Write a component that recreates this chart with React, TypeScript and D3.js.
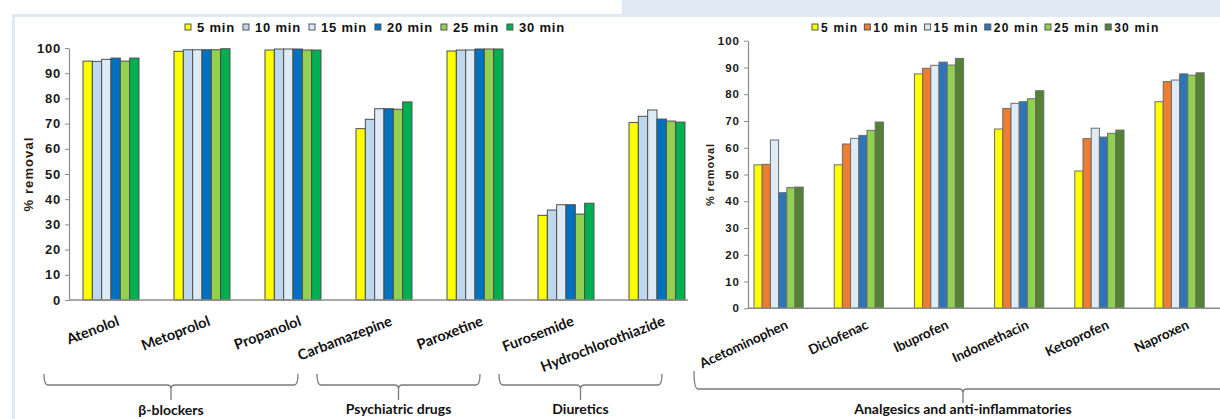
import React, { useEffect, useRef } from "react";
import * as d3 from "d3";

const seriesNames = ["5 min", "10 min", "15 min", "20 min", "25 min", "30 min"];

const leftCategories = ["Atenolol", "Metoprolol", "Propanolol", "Carbamazepine", "Paroxetine", "Furosemide", "Hydrochlorothiazide"];
const left5 = [94.8, 98.7, 99.2, 68.0, 98.8, 33.6, 70.4];
const left10 = [94.7, 99.3, 99.6, 71.7, 99.2, 35.7, 72.9];
const left15 = [95.5, 99.3, 99.6, 75.9, 99.2, 37.8, 75.4];
const left20 = [96.0, 99.3, 99.6, 75.9, 99.6, 37.8, 71.8];
const left25 = [94.8, 99.3, 99.2, 75.7, 99.6, 34.1, 71.0];
const left30 = [96.0, 99.7, 99.2, 78.6, 99.6, 38.4, 70.6];
const leftColors = ["#FFFF00", "#BDD7EE", "#DDEBF7", "#0070C0", "#92D050", "#00B050"];
const leftGroups = [
  { name: "β-blockers", first: "Atenolol", last: "Propanolol" },
  { name: "Psychiatric drugs", first: "Carbamazepine", last: "Paroxetine" },
  { name: "Diuretics", first: "Furosemide", last: "Hydrochlorothiazide" },
];

const rightCategories = ["Acetominophen", "Diclofenac", "Ibuprofen", "Indomethacin", "Ketoprofen", "Naproxen"];
const right5 = [53.6, 53.6, 87.6, 67.0, 51.3, 77.2];
const right10 = [53.8, 61.4, 89.7, 74.7, 63.4, 84.7];
const right15 = [62.9, 63.5, 90.8, 76.6, 67.3, 85.3];
const right20 = [43.2, 64.6, 92.0, 77.2, 64.0, 87.6];
const right25 = [45.1, 66.5, 90.9, 78.3, 65.4, 87.1];
const right30 = [45.3, 69.6, 93.4, 81.3, 66.6, 88.0];
const rightColors = ["#FFFF00", "#ED7D31", "#DEEBF7", "#2E75B6", "#92D050", "#548235"];
const rightGroups = [{ name: "Analgesics and anti-inflammatories", first: "Acetominophen", last: "Naproxen" }];

const yTicks = [0, 10, 20, 30, 40, 50, 60, 70, 80, 90, 100];

const ARIAL = "'Liberation Sans', Arial, sans-serif";
const LATO = "Lato, 'Open Sans', sans-serif";

type Cfg = {
  categories: string[];
  values: number[][];
  colors: string[];
  groups: { name: string; first: string; last: string }[];
  axisX: number;
  step: number;
  barOffset: number;
  barW: number;
  y0: number;
  y100: number;
  axisEnd: number;
  tickFont: number;
  tickLS: number;
  titleFont: number;
  titleLS: number;
  titleX: number;
  labelFont: number;
  labelAngle: number;
  labelDx: number;
  labelY: number;
  legendX: number;
  legendFont: number;
  legendLS: number;
  legendGapAfterSq: number;
  legendGapAfterText: number;
  barStroke: string;
  bracketLeft: number;
  bracketRight: number;
  bracketTop: number;
  bracketLine: number;
  bracketStem: number;
  groupLabelY: number[];
};

function drawChart(svg: d3.Selection<SVGSVGElement, unknown, null, undefined>, c: Cfg) {
  const g = svg.append("g");
  const n = c.categories.length;
  const x0 = d3.scaleBand<string>().domain(c.categories).range([c.axisX, c.axisX + n * c.step]).padding(0);
  const x1 = d3.scaleBand<string>().domain(seriesNames).range([c.barOffset, c.barOffset + 6 * c.barW]).padding(0);
  const y = d3.scaleLinear().domain([0, 100]).range([c.y0, c.y100]);

  // bars
  c.categories.forEach((cat, ci) => {
    seriesNames.forEach((s, si) => {
      const v = c.values[si][ci];
      g.append("rect")
        .attr("x", (x0(cat) as number) + (x1(s) as number))
        .attr("y", y(v))
        .attr("width", x1.bandwidth())
        .attr("height", y(0) - y(v))
        .attr("fill", c.colors[si])
        .attr("stroke", c.barStroke)
        .attr("stroke-width", 1);
    });
  });

  // x axis line
  g.append("line")
    .attr("x1", c.axisX).attr("x2", c.axisEnd)
    .attr("y1", y(0)).attr("y2", y(0))
    .attr("stroke", "#8c8c8c").attr("stroke-width", 1.5);

  // y axis
  const ax = g.append("g")
    .attr("transform", `translate(${c.axisX},0)`)
    .call(d3.axisLeft(y).tickValues(yTicks).tickSize(4).tickPadding(4).tickSizeOuter(0));
  ax.select(".domain").attr("stroke", "#8c8c8c").attr("stroke-width", 1.2);
  ax.selectAll(".tick line").attr("stroke", "#8c8c8c");
  ax.selectAll(".tick text")
    .attr("font-family", ARIAL)
    .attr("font-weight", "bold")
    .attr("font-size", c.tickFont)
    .attr("letter-spacing", c.tickLS)
    .attr("fill", "#1a1a1a");

  // y title
  g.append("text")
    .attr("transform", `translate(${c.titleX},${(y(0) + y(100)) / 2}) rotate(-90)`)
    .attr("text-anchor", "middle")
    .attr("dominant-baseline", "central")
    .attr("font-family", ARIAL)
    .attr("font-weight", "bold")
    .attr("font-size", c.titleFont)
    .attr("letter-spacing", c.titleLS)
    .attr("fill", "#2a1a10")
    .text("% removal");

  // category labels
  c.categories.forEach((cat) => {
    const lx = (x0(cat) as number) + c.labelDx;
    g.append("text")
      .attr("transform", `translate(${lx},${c.labelY}) rotate(${c.labelAngle})`)
      .attr("text-anchor", "end")
      .attr("font-family", LATO)
      .attr("font-weight", "bold")
      .attr("font-size", c.labelFont)
      .attr("fill", "#111")
      .text(cat);
  });

  // legend
  let lx = c.legendX;
  const legendY = 27.5;
  seriesNames.forEach((s, si) => {
    g.append("rect")
      .attr("x", lx).attr("y", legendY - 3.5)
      .attr("width", 6).attr("height", 6)
      .attr("fill", c.colors[si])
      .attr("stroke", "#555").attr("stroke-width", 1);
    lx += 6 + c.legendGapAfterSq;
    const t = g.append("text")
      .attr("x", lx).attr("y", legendY)
      .attr("dominant-baseline", "central")
      .attr("font-family", ARIAL)
      .attr("font-weight", "bold")
      .attr("font-size", c.legendFont)
      .attr("letter-spacing", c.legendLS)
      .attr("fill", "#111")
      .text(s);
    const w = (t.node() as SVGTextElement).getComputedTextLength();
    lx += w + c.legendGapAfterText;
  });

  // brackets
  c.groups.forEach((gr, gi) => {
    const xl = (x0(gr.first) as number) + c.bracketLeft;
    const xr = (x0(gr.last) as number) + c.bracketRight;
    const xm = (xl + xr) / 2;
    const top = c.bracketTop;
    const ln = c.bracketLine;
    const r = 4;
    const path = `M${xl},${top} Q${xl},${ln} ${xl + r},${ln} L${xm - r},${ln} Q${xm},${ln} ${xm},${ln + r} L${xm},${c.bracketStem} M${xm},${ln + r} Q${xm},${ln} ${xm + r},${ln} L${xr - r},${ln} Q${xr},${ln} ${xr},${top}`;
    g.append("path")
      .attr("d", path)
      .attr("fill", "none")
      .attr("stroke", "#7a7a7a")
      .attr("stroke-width", 1.3);
    g.append("text")
      .attr("x", xm).attr("y", c.groupLabelY[gi])
      .attr("text-anchor", "middle")
      .attr("font-family", LATO)
      .attr("font-weight", "bold")
      .attr("font-size", 14)
      .attr("fill", "#111")
      .text(gr.name);
  });
}

export default function App() {
  const ref = useRef<SVGSVGElement>(null);
  useEffect(() => {
    const svg = d3.select(ref.current as SVGSVGElement);
    svg.selectAll("*").remove();

    // background frames
    svg.append("rect").attr("x", 0).attr("y", 0).attr("width", 1220).attr("height", 419).attr("fill", "#fff");
    svg.append("rect").attr("x", 622).attr("y", 0).attr("width", 598).attr("height", 17).attr("fill", "#DFEAF4");
    svg.append("path")
      .attr("d", "M13.5,419 L13.5,15.5 L622,15.5")
      .attr("fill", "none")
      .attr("stroke", "#DFEAF4")
      .attr("stroke-width", 3);

    drawChart(svg, {
      categories: leftCategories,
      values: [left5, left10, left15, left20, left25, left30],
      colors: leftColors,
      groups: leftGroups,
      axisX: 69,
      step: 91,
      barOffset: 14,
      barW: 9.33,
      y0: 300,
      y100: 48,
      axisEnd: 688,
      tickFont: 13,
      tickLS: 0.8,
      titleFont: 13,
      titleLS: 1.1,
      titleX: 28,
      labelFont: 14.5,
      labelAngle: -21,
      labelDx: 51,
      labelY: 325,
      legendX: 185,
      legendFont: 13,
      legendLS: 0.8,
      legendGapAfterSq: 6,
      legendGapAfterText: 8,
      barStroke: "#4d4d4d",
      bracketLeft: -25,
      bracketRight: 47,
      bracketTop: 374,
      bracketLine: 385,
      bracketStem: 400,
      groupLabelY: [415, 414, 414],
    });

    drawChart(svg, {
      categories: rightCategories,
      values: [right5, right10, right15, right20, right25, right30],
      colors: rightColors,
      groups: rightGroups,
      axisX: 748,
      step: 80.2,
      barOffset: 6,
      barW: 8.2,
      y0: 308.3,
      y100: 40.7,
      axisEnd: 1220,
      tickFont: 11.5,
      tickLS: 1,
      titleFont: 11,
      titleLS: 0.9,
      titleX: 710,
      labelFont: 13.5,
      labelAngle: -25,
      labelDx: 41,
      labelY: 328,
      legendX: 812,
      legendFont: 12,
      legendLS: 1.2,
      legendGapAfterSq: 3,
      legendGapAfterText: 6,
      barStroke: "#6b6b6b",
      bracketLeft: -54,
      bracketRight: 83,
      bracketTop: 371,
      bracketLine: 389,
      bracketStem: 403,
      groupLabelY: [414],
    });
  }, []);

  return (
    <svg
      ref={ref}
      width={1220}
      height={419}
      style={{ position: "absolute", left: 0, top: 0, display: "block" }}
    />
  );
}
